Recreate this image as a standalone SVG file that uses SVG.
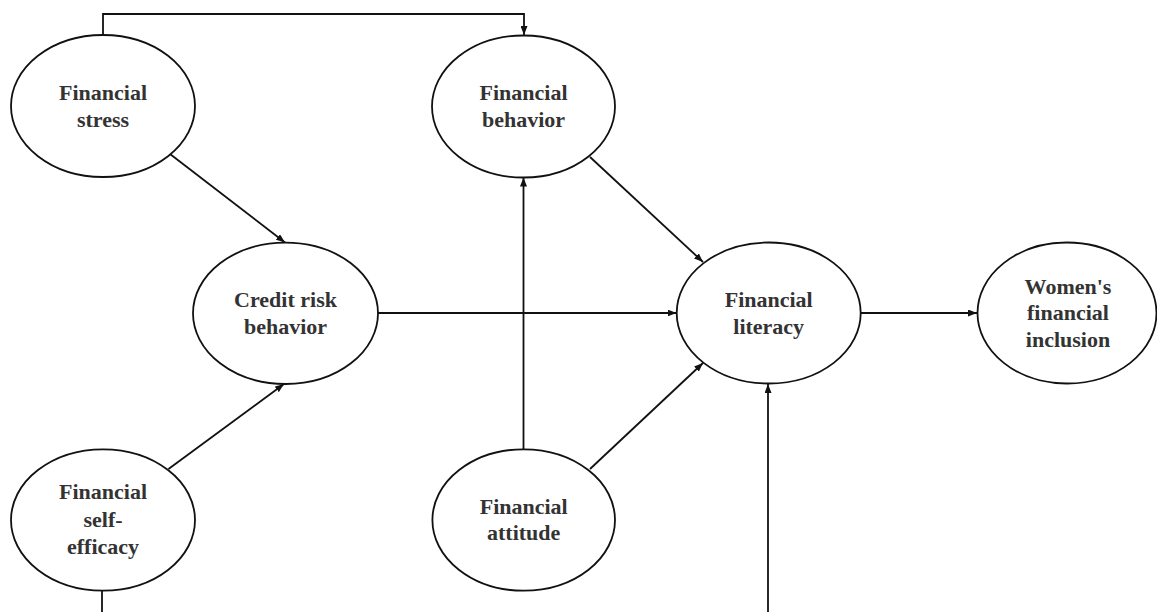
<svg xmlns="http://www.w3.org/2000/svg" width="1157" height="612" viewBox="0 0 1157 612">
<style>
.node ellipse{fill:#fff;stroke:#111;stroke-width:1.8}
.node text{font-family:"Liberation Serif",serif;font-weight:bold;font-size:22px;fill:#333;text-anchor:middle}
.conn line,.conn polyline{stroke:#111;stroke-width:1.8;fill:none;marker-end:url(#arr)}
.conn .plain{marker-end:none}
</style>
<defs>
<marker id="arr" markerUnits="userSpaceOnUse" markerWidth="9" markerHeight="7" refX="9" refY="3.5" orient="auto">
<path d="M0,0 L9,3.5 L0,7 z" fill="#111"/>
</marker>
</defs>
<g id="connectors" class="conn">
<polyline points="103,35 103,14 524,14 524,35"/>
<line x1="170" y1="154" x2="285" y2="242.5"/>
<line x1="168.5" y1="469" x2="284" y2="384"/>
<line x1="378" y1="313" x2="676.5" y2="313"/>
<line x1="590" y1="157" x2="703" y2="262"/>
<line x1="590" y1="469" x2="703" y2="363"/>
<line x1="523.5" y1="449" x2="523.5" y2="177.5"/>
<line x1="861" y1="313" x2="977" y2="313"/>
<line x1="768" y1="612" x2="768" y2="384"/>
<line class="plain" x1="102" y1="591" x2="102" y2="612"/>
</g>
<g id="financial-stress" class="node">
<ellipse cx="103" cy="106" rx="92" ry="71"/>
<text x="103" y="100">Financial</text>
<text x="103" y="127">stress</text>
</g>
<g id="financial-behavior" class="node">
<ellipse cx="523.5" cy="106.5" rx="91.5" ry="71"/>
<text x="523.5" y="100">Financial</text>
<text x="523.5" y="127">behavior</text>
</g>
<g id="credit-risk-behavior" class="node">
<ellipse cx="285.5" cy="313.3" rx="92.5" ry="70.7"/>
<text x="285.5" y="307">Credit risk</text>
<text x="285.5" y="333.5">behavior</text>
</g>
<g id="financial-literacy" class="node">
<ellipse cx="768.7" cy="313" rx="92" ry="70.5"/>
<text x="768.7" y="307">Financial</text>
<text x="768.7" y="333.5">literacy</text>
</g>
<g id="womens-financial-inclusion" class="node">
<ellipse cx="1067" cy="313" rx="89.5" ry="70.5"/>
<text x="1068" y="293.5">Women's</text>
<text x="1068" y="320">financial</text>
<text x="1068" y="346.5">inclusion</text>
</g>
<g id="financial-self-efficacy" class="node">
<ellipse cx="103" cy="520" rx="92" ry="70.7"/>
<text x="103" y="498.5">Financial</text>
<text x="103" y="526.5">self-</text>
<text x="103" y="553.5">efficacy</text>
</g>
<g id="financial-attitude" class="node">
<ellipse cx="523.7" cy="520" rx="91.3" ry="70.7"/>
<text x="523.7" y="513.5">Financial</text>
<text x="523.7" y="540">attitude</text>
</g>
</svg>
